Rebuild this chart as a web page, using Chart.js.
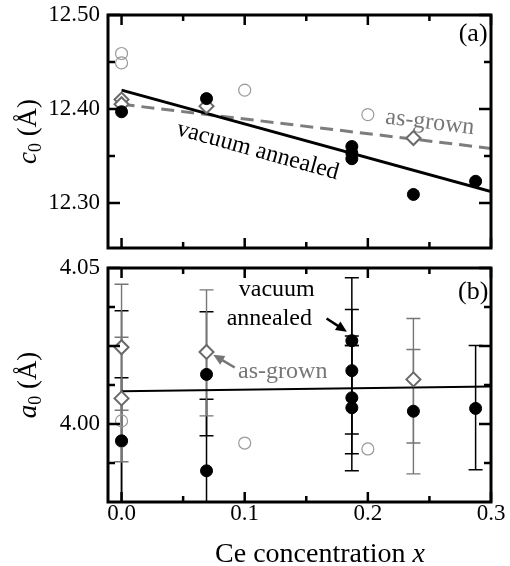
<!DOCTYPE html>
<html><head><meta charset="utf-8">
<script src="https://cdn.jsdelivr.net/npm/chart.js@4"></script>
<style>
html,body{margin:0;padding:0;background:#fff;}
#wrap{position:relative;width:510px;height:566px;overflow:hidden;}
canvas{position:absolute;left:0;}
</style></head><body>
<div id="wrap">
<canvas id="cTop" width="510" height="250" style="top:0;width:510px;height:250px"></canvas>
<canvas id="cBot" width="510" height="316" style="top:250px;width:510px;height:316px"></canvas>
</div>
<script>
// ---------- data ----------
const xTicks = [0, 0.1, 0.2, 0.3];
const xMinorTicks = [0.05, 0.15, 0.25];
const cTicks = [12.30, 12.40, 12.50];
const cMinorTicks = [12.35, 12.45];
const aTicks = [4.00, 4.05];
const aMajorUnlabeled = [4.025];
const aMinorTicks = [3.9875, 4.0125, 4.0375];
const fitX = [0, 0.3];

// panel (a): c0
const cVacX = [0, 0.069, 0.187, 0.187, 0.187, 0.237, 0.2875];
const cVacY = [12.397, 12.411, 12.360, 12.353, 12.347, 12.309, 12.323];
const cAgX = [0, 0, 0.069, 0.237];
const cAgY = [12.410, 12.405, 12.403, 12.369];
const cRefX = [0, 0, 0.1, 0.2];
const cRefY = [12.459, 12.449, 12.420, 12.394];
const cVacFit = [12.420, 12.312];
const cAgFit = [12.405, 12.358];

// panel (b): a0
const aVacX = [0, 0.069, 0.069, 0.187, 0.187, 0.187, 0.187, 0.237, 0.2875];
const aVacY = [3.9946, 4.0159, 3.985, 4.0267, 4.0171, 4.0084, 4.0052, 4.0041, 4.0050];
const aAgX = [0, 0, 0.069, 0.237];
const aAgY = [4.0246, 4.0082, 4.0231, 4.0143];
const aRefX = [0, 0, 0.1, 0.2];
const aRefY = [4.001, 3.9945, 3.9939, 3.992];
const aVacFit = [4.0105, 4.0120];

const aVacErrX  = [0, 0, 0.069, 0.069, 0.187, 0.187, 0.187, 0.187, 0.2875];
const aVacErrLo = [3.9745, 3.953, 3.9962, 3.962, 4.0252, 3.9968, 3.985, 3.9905, 3.9853];
const aVacErrHi = [4.0148, 4.0363, 4.0360, 4.0079, 4.0282, 4.0367, 4.0469, 4.0252, 4.0252];
const aAgErrX  = [0, 0, 0.069, 0.237, 0.237];
const aAgErrLo = [4.0044, 3.9879, 4.0026, 3.9939, 3.9840];
const aAgErrHi = [4.0448, 4.0278, 4.0430, 4.0338, 4.0239];

// ---------- helpers ----------
const FONT = '"Liberation Serif", "DejaVu Serif", serif';
const GRAY = '#767676';
const pts = (xs, ys) => xs.map((x, i) => ({x: x, y: ys[i]}));

function makeDeco(cfg) {
  return {
    id: 'deco',
    beforeDatasetsDraw(chart) {
      const {ctx, chartArea: a, scales: {x, y}} = chart;
      ctx.save();
      ctx.beginPath(); ctx.rect(a.left, a.top, a.right - a.left, a.bottom - a.top); ctx.clip();
      (cfg.errors || []).forEach(g => {
        ctx.strokeStyle = g.color; ctx.lineWidth = g.width;
        g.x.forEach((xv, i) => {
          const px = x.getPixelForValue(xv);
          const p1 = y.getPixelForValue(g.lo[i]);
          const p2 = y.getPixelForValue(g.hi[i]);
          ctx.beginPath();
          ctx.moveTo(px, p1); ctx.lineTo(px, p2);
          ctx.moveTo(px - 7, p1); ctx.lineTo(px + 7, p1);
          ctx.moveTo(px - 7, p2); ctx.lineTo(px + 7, p2);
          ctx.stroke();
        });
      });
      ctx.restore();
    },
    afterDraw(chart) {
      const {ctx, chartArea: a, scales: {x, y}} = chart;
      ctx.save();
      // inward ticks
      ctx.strokeStyle = '#000'; ctx.lineWidth = 2.5; ctx.lineCap = 'butt';
      const xt = (vals, L) => vals.forEach(v => {
        const p = x.getPixelForValue(v);
        ctx.beginPath();
        ctx.moveTo(p, a.top); ctx.lineTo(p, a.top + L);
        ctx.moveTo(p, a.bottom); ctx.lineTo(p, a.bottom - L);
        ctx.stroke();
      });
      const yt = (vals, L) => vals.forEach(v => {
        const p = y.getPixelForValue(v);
        ctx.beginPath();
        ctx.moveTo(a.left, p); ctx.lineTo(a.left + L, p);
        ctx.moveTo(a.right, p); ctx.lineTo(a.right - L, p);
        ctx.stroke();
      });
      xt(xTicks, 10); xt(xMinorTicks, 6);
      yt(cfg.yMajor, 12); yt(cfg.yMinor, 7);
      // frame
      ctx.lineWidth = 3;
      ctx.strokeRect(a.left, a.top, a.right - a.left, a.bottom - a.top);
      // arrows
      (cfg.arrows || []).forEach(ar => {
        const x1 = x.getPixelForValue(ar.x1), y1 = y.getPixelForValue(ar.y1);
        const x2 = x.getPixelForValue(ar.x2), y2 = y.getPixelForValue(ar.y2);
        const ang = Math.atan2(y2 - y1, x2 - x1);
        ctx.strokeStyle = ar.color; ctx.fillStyle = ar.color; ctx.lineWidth = 2.5;
        ctx.beginPath(); ctx.moveTo(x1, y1);
        ctx.lineTo(x2 - 7 * Math.cos(ang), y2 - 7 * Math.sin(ang)); ctx.stroke();
        ctx.beginPath();
        ctx.moveTo(x2, y2);
        ctx.lineTo(x2 - 11 * Math.cos(ang) + 5 * Math.sin(ang), y2 - 11 * Math.sin(ang) - 5 * Math.cos(ang));
        ctx.lineTo(x2 - 11 * Math.cos(ang) - 5 * Math.sin(ang), y2 - 11 * Math.sin(ang) + 5 * Math.cos(ang));
        ctx.closePath(); ctx.fill();
      });
      // texts
      (cfg.texts || []).forEach(t => {
        ctx.save();
        ctx.translate(x.getPixelForValue(t.x), y.getPixelForValue(t.y));
        ctx.rotate((t.rot || 0) * Math.PI / 180);
        ctx.fillStyle = t.color; ctx.font = t.size + 'px ' + FONT;
        ctx.textAlign = 'center'; ctx.textBaseline = 'middle';
        ctx.fillText(t.text, 0, 0);
        ctx.restore();
      });
      // y title: italic symbol + subscript 0 + (Å)
      const cy = (a.top + a.bottom) / 2;
      ctx.save();
      ctx.translate(36, cy); ctx.rotate(-Math.PI / 2);
      ctx.fillStyle = '#000'; ctx.textBaseline = 'alphabetic'; ctx.textAlign = 'left';
      const f1 = 'italic 27px ' + FONT, f2 = '18px ' + FONT, f3 = '27px ' + FONT;
      ctx.font = f1; const w1 = ctx.measureText(cfg.sym).width;
      ctx.font = f2; const w2 = ctx.measureText('0').width;
      ctx.font = f3; const w3 = ctx.measureText(' (Å)').width;
      let x0 = -(w1 + w2 + w3) / 2;
      ctx.font = f1; ctx.fillText(cfg.sym, x0, 0); x0 += w1;
      ctx.font = f2; ctx.fillText('0', x0, 5); x0 += w2;
      ctx.font = f3; ctx.fillText(' (Å)', x0, 0);
      ctx.restore();
      // x title
      if (cfg.xTitle) {
        ctx.fillStyle = '#000'; ctx.textBaseline = 'alphabetic'; ctx.textAlign = 'left';
        const s1 = 'Ce concentration ';
        const g1 = '28px ' + FONT, g2 = 'italic 28px ' + FONT;
        ctx.font = g1; const ww1 = ctx.measureText(s1).width;
        ctx.font = g2; const ww2 = ctx.measureText('x').width;
        let sx = 320 - (ww1 + ww2) / 2;
        ctx.font = g1; ctx.fillText(s1, sx, cfg.xTitleY);
        ctx.font = g2; ctx.fillText('x', sx + ww1, cfg.xTitleY);
      }
      ctx.restore();
    }
  };
}

function axisX(showLabels, h) {
  return {
    type: 'linear', min: -0.011, max: 0.3,
    afterBuildTicks: s => { s.ticks = xTicks.map(v => ({value: v})); },
    ticks: {display: showLabels, callback: v => Number(v).toFixed(1), color: '#000',
            font: {family: FONT, size: 23}, padding: -2, maxRotation: 0, autoSkip: false},
    grid: {display: false, drawTicks: false}, border: {display: false},
    afterFit: s => { s.height = h; s.paddingLeft = 0; s.paddingRight = 0; }
  };
}
function axisY(min, max, labels) {
  return {
    type: 'linear', min: min, max: max,
    afterBuildTicks: s => { s.ticks = labels.map(v => ({value: v})); },
    ticks: {callback: v => Number(v).toFixed(2), color: '#000',
            font: {family: FONT, size: 23}, padding: 8, autoSkip: false},
    grid: {display: false, drawTicks: false}, border: {display: false},
    afterFit: s => { s.width = 108; s.paddingTop = 0; s.paddingBottom = 0; }
  };
}
const common = {
  responsive: false, animation: false, events: [],
  plugins: {legend: {display: false}, tooltip: {enabled: false}}
};

// ---------- panel (a) ----------
new Chart(document.getElementById('cTop'), {
  type: 'scatter',
  data: {datasets: [
    {label: 'vacuum annealed', data: pts(cVacX, cVacY), pointStyle: 'circle', pointRadius: 6,
     backgroundColor: '#000', borderColor: '#000', borderWidth: 1, order: 1},
    {label: 'as-grown', data: pts(cAgX, cAgY), pointStyle: 'rectRot', pointRadius: 7,
     backgroundColor: '#fff', borderColor: '#6a6a6a', borderWidth: 2, order: 2},
    {label: 'reference', data: pts(cRefX, cRefY), pointStyle: 'circle', pointRadius: 6,
     backgroundColor: 'rgba(0,0,0,0)', borderColor: '#9a9a9a', borderWidth: 1.2, order: 3},
    {type: 'line', label: 'fit vacuum annealed', data: pts(fitX, cVacFit), borderColor: '#000',
     borderWidth: 3, pointRadius: 0, order: 4},
    {type: 'line', label: 'fit as-grown', data: pts(fitX, cAgFit), borderColor: '#7d7d7d',
     borderWidth: 3, borderDash: [13, 7], pointRadius: 0, order: 5}
  ]},
  options: Object.assign({}, common, {
    layout: {autoPadding: false, padding: {top: 15, right: 19, left: 0, bottom: 0}},
    scales: {x: axisX(false, 2), y: axisY(12.252, 12.50, cTicks)}
  }),
  plugins: [makeDeco({
    yMajor: cTicks, yMinor: cMinorTicks, sym: 'c',
    texts: [
      {text: '(a)', x: 0.2855, y: 12.480, size: 26, color: '#000'},
      {text: 'vacuum annealed', x: 0.1106, y: 12.3553, rot: 15.5, size: 24, color: '#000'},
      {text: 'as-grown', x: 0.2504, y: 12.3855, rot: 6.8, size: 24, color: GRAY}
    ]
  })]
});

// ---------- panel (b) ----------
new Chart(document.getElementById('cBot'), {
  type: 'scatter',
  data: {datasets: [
    {label: 'vacuum annealed', data: pts(aVacX, aVacY), pointStyle: 'circle', pointRadius: 6,
     backgroundColor: '#000', borderColor: '#000', borderWidth: 1, order: 1},
    {label: 'as-grown', data: pts(aAgX, aAgY), pointStyle: 'rectRot', pointRadius: 7,
     backgroundColor: '#fff', borderColor: '#6a6a6a', borderWidth: 2, order: 2},
    {label: 'reference', data: pts(aRefX, aRefY), pointStyle: 'circle', pointRadius: 6,
     backgroundColor: 'rgba(0,0,0,0)', borderColor: '#9a9a9a', borderWidth: 1.2, order: 3},
    {type: 'line', label: 'fit', data: pts(fitX, aVacFit), borderColor: '#000',
     borderWidth: 2, pointRadius: 0, order: 4}
  ]},
  options: Object.assign({}, common, {
    layout: {autoPadding: false, padding: {top: 18, right: 19, left: 0, bottom: 0}},
    scales: {x: axisX(true, 64), y: axisY(3.975, 4.05, aTicks)}
  }),
  plugins: [makeDeco({
    yMajor: aTicks.concat(aMajorUnlabeled), yMinor: aMinorTicks, sym: 'a',
    xTitle: true, xTitleY: 312,
    errors: [
      {x: aVacErrX, lo: aVacErrLo, hi: aVacErrHi, color: '#000', width: 1.5},
      {x: aAgErrX, lo: aAgErrLo, hi: aAgErrHi, color: GRAY, width: 1.4}
    ],
    arrows: [
      {x1: 0.1665, y1: 4.0338, x2: 0.1830, y2: 4.0296, color: '#000'},
      {x1: 0.0919, y1: 4.0181, x2: 0.0745, y2: 4.0222, color: GRAY}
    ],
    texts: [
      {text: '(b)', x: 0.2855, y: 4.0421, size: 26, color: '#000'},
      {text: 'vacuum', x: 0.126, y: 4.0431, size: 24, color: '#000'},
      {text: 'annealed', x: 0.120, y: 4.0338, size: 24, color: '#000'},
      {text: 'as-grown', x: 0.1309, y: 4.0169, size: 24, color: GRAY}
    ]
  })]
});
</script>
</body></html>
